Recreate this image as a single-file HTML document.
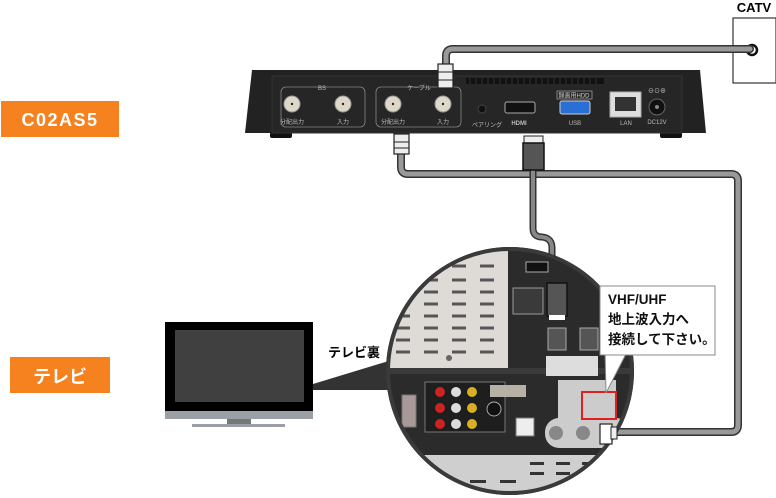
<!DOCTYPE html>
<html><head><meta charset="utf-8"><style>
html,body{margin:0;padding:0;background:#fff;}
svg{display:block;font-family:"Liberation Sans","Noto Sans CJK JP",sans-serif;}
</style></head><body>
<svg width="776" height="498" viewBox="0 0 776 498" xmlns="http://www.w3.org/2000/svg">
<defs><clipPath id="c"><circle cx="510" cy="371" r="121"/></clipPath></defs>
<!-- orange labels -->
<rect x="1" y="101" width="118" height="36" fill="#f5821f"/>
<text x="60" y="126" font-size="18" font-weight="bold" fill="#fff" text-anchor="middle" letter-spacing="1.5">C02AS5</text>
<rect x="10" y="357" width="100" height="36" fill="#f5821f"/>
<text x="60" y="383" font-size="18" font-weight="bold" fill="#fff" text-anchor="middle">テレビ</text>
<!-- CATV -->
<text x="754" y="12" font-size="13" font-weight="bold" text-anchor="middle">CATV</text>
<rect x="733" y="18" width="43" height="65" fill="#fff" stroke="#333" stroke-width="1.2"/>
<circle cx="752" cy="50" r="5" fill="#fff" stroke="#111" stroke-width="2.5"/>
<!-- cables -->
<g fill="none" stroke-linecap="round" stroke-linejoin="round">
<path d="M446 66 V56 Q446 49 453 49 H750" stroke="#333" stroke-width="8"/>
<path d="M446 66 V56 Q446 49 453 49 H750" stroke="#999" stroke-width="5"/>
<path d="M401 150 V167 Q401 174 408 174 H731 Q738 174 738 181 V425 Q738 432 731 432 H615" stroke="#333" stroke-width="8"/>
<path d="M401 150 V167 Q401 174 408 174 H731 Q738 174 738 181 V425 Q738 432 731 432 H615" stroke="#999" stroke-width="5"/>
<path d="M533 168 V228 Q533 237 542 237 Q552 238 552 248 V290" stroke="#333" stroke-width="7"/>
<path d="M533 168 V228 Q533 237 542 237 Q552 238 552 248 V290" stroke="#888" stroke-width="4"/>
</g>
<!-- device -->
<path d="M252 70 H700 L706 133 H245 Z" fill="#222"/>
<rect x="270" y="132" width="22" height="6" rx="2" fill="#111"/>
<rect x="660" y="132" width="22" height="6" rx="2" fill="#111"/>
<rect x="272" y="76" width="410" height="57" fill="#262626" stroke="#333"/>
<g fill="#111"><rect x="466" y="78" width="138" height="6"/></g>
<g stroke="#333" stroke-width="1"><path d="M470 78v6M476 78v6M482 78v6M488 78v6M494 78v6M500 78v6M506 78v6M512 78v6M518 78v6M524 78v6M530 78v6M536 78v6M542 78v6M548 78v6M554 78v6M560 78v6M566 78v6M572 78v6M578 78v6M584 78v6M590 78v6M596 78v6"/></g>
<rect x="281" y="87" width="84" height="40" rx="5" fill="none" stroke="#888" stroke-width="0.8"/>
<rect x="376" y="87" width="85" height="40" rx="5" fill="none" stroke="#888" stroke-width="0.8"/>
<text x="322" y="90" font-size="6" fill="#bbb" text-anchor="middle">BS</text>
<text x="419" y="90" font-size="6" fill="#bbb" text-anchor="middle">ケーブル</text>
<g fill="#ddd8c8" stroke="#999"><circle cx="292" cy="104" r="8"/><circle cx="343" cy="104" r="8"/><circle cx="393" cy="104" r="8"/><circle cx="443" cy="104" r="8"/></g>
<g fill="#222"><circle cx="292" cy="104" r="1.2"/><circle cx="343" cy="104" r="1.2"/><circle cx="393" cy="104" r="1.2"/><circle cx="443" cy="104" r="1.2"/></g>
<g font-size="6" fill="#bbb" text-anchor="middle"><text x="292" y="124">分配出力</text><text x="343" y="124">入力</text><text x="393" y="124">分配出力</text><text x="443" y="124">入力</text><text x="487" y="127">ペアリング</text><text x="519" y="125" font-weight="bold">HDMI</text><text x="575" y="125">USB</text><text x="626" y="125">LAN</text><text x="657" y="124">DC12V</text></g>
<circle cx="482" cy="109" r="4" fill="#111" stroke="#444"/>
<rect x="505" y="102" width="30" height="11" rx="2" fill="#111" stroke="#aaa"/>
<rect x="557" y="91" width="35" height="8" fill="none" stroke="#aaa" stroke-width="0.7"/>
<text x="574" y="97.5" font-size="6" fill="#ccc" text-anchor="middle">録画用HDD</text>
<rect x="560" y="101" width="30" height="13" rx="2" fill="#2a6fd6" stroke="#ccc"/>
<rect x="610" y="92" width="31" height="25" fill="#ddd" stroke="#aaa"/>
<rect x="615" y="97" width="21" height="14" fill="#333"/>
<circle cx="657" cy="107" r="8" fill="#111" stroke="#666"/>
<circle cx="657" cy="107" r="2" fill="#888"/>
<text x="657" y="93" font-size="6" fill="#ccc" text-anchor="middle">⊖⊙⊕</text>
<!-- connectors -->
<rect x="438" y="64" width="15" height="24" fill="#eee" stroke="#222" stroke-width="1.2"/>
<path d="M438 72h15M438 80h15" stroke="#222"/>
<rect x="394" y="134" width="15" height="20" fill="#eee" stroke="#222" stroke-width="1.2"/>
<path d="M394 142h15M394 148h15" stroke="#222"/>
<rect x="524" y="136" width="19" height="8" fill="#eee" stroke="#222"/>
<rect x="523" y="143" width="21" height="27" fill="#555" stroke="#111" stroke-width="1.5"/>
<!-- TV -->
<rect x="165" y="322" width="148" height="90" fill="#000"/>
<rect x="175" y="330" width="129" height="72" fill="#404040"/>
<rect x="165" y="411" width="148" height="8" fill="#9aa0a6"/>
<rect x="227" y="419" width="24" height="5" fill="#777"/>
<rect x="192" y="424" width="93" height="3" fill="#9aa0a6"/>
<polygon points="313,384 392,360 392,390 313,390" fill="#333"/>
<text x="328" y="357" font-size="13" font-weight="bold">テレビ裏</text>
<!-- circle detail -->
<circle cx="510" cy="371" r="124" fill="#2a2a2a"/>
<g clip-path="url(#c)">
<rect x="380" y="240" width="260" height="260" fill="#2b2b2b"/>
<rect x="380" y="240" width="128" height="128" fill="#dedad6"/>
<g stroke="#555" stroke-width="3" stroke-dasharray="14 14">
<path d="M396 266H500M396 280H500M396 292H500M396 304H500M396 316H500M396 328H500M396 340H500M396 352H500"/></g>
<circle cx="449" cy="358" r="3" fill="#666"/>
<rect x="380" y="368" width="260" height="6" fill="#3a3a3a"/>
<rect x="425" y="382" width="80" height="50" fill="#1e1e1e" stroke="#777"/>
<g fill="#c22"><circle cx="440" cy="392" r="5"/><circle cx="440" cy="408" r="5"/><circle cx="440" cy="424" r="5"/></g>
<g fill="#ddd"><circle cx="456" cy="392" r="5"/><circle cx="456" cy="408" r="5"/><circle cx="456" cy="424" r="5"/></g>
<g fill="#d8b020"><circle cx="472" cy="392" r="5"/><circle cx="472" cy="408" r="5"/><circle cx="472" cy="424" r="5"/></g>
<rect x="490" y="385" width="36" height="12" fill="#b7b0a5"/>
<circle cx="494" cy="409" r="7" fill="#111" stroke="#aaa"/>
<rect x="402" y="395" width="14" height="32" fill="#a99" stroke="#777"/>
<rect x="516" y="418" width="18" height="18" fill="#eee" stroke="#777"/>
<rect x="548" y="328" width="18" height="22" fill="#555" stroke="#aaa"/>
<rect x="580" y="328" width="18" height="22" fill="#555" stroke="#aaa"/>
<rect x="546" y="356" width="52" height="20" fill="#ddd"/>
<rect x="526" y="262" width="22" height="10" fill="#111" stroke="#aaa"/>
<rect x="513" y="288" width="30" height="26" fill="#3a3a3a" stroke="#999"/>
<rect x="558" y="380" width="58" height="40" fill="#ccc"/>
<rect x="545" y="418" width="85" height="30" rx="14" fill="#ccc"/>
<circle cx="556" cy="433" r="7" fill="#888"/><circle cx="583" cy="433" r="7" fill="#888"/>
<rect x="380" y="455" width="260" height="45" fill="#cfcfcf"/>
<g fill="#333"><rect x="530" y="462" width="14" height="3"/><rect x="556" y="462" width="14" height="3"/><rect x="582" y="462" width="14" height="3"/><rect x="530" y="472" width="14" height="3"/><rect x="556" y="472" width="14" height="3"/><rect x="582" y="472" width="14" height="3"/><rect x="470" y="480" width="16" height="3"/><rect x="500" y="480" width="16" height="3"/></g>
</g>
<circle cx="510" cy="371" r="122" fill="none" stroke="#3a3a3a" stroke-width="4"/>
<!-- HDMI plug on TV -->
<rect x="547" y="283" width="20" height="33" fill="#555" stroke="#111" stroke-width="1.5"/>
<rect x="549" y="315" width="16" height="5" fill="#fff"/>
<!-- red box -->
<rect x="582" y="392" width="34" height="27" fill="none" stroke="#e02020" stroke-width="2"/>
<!-- TV coax connector -->
<rect x="600" y="424" width="12" height="20" fill="#fff" stroke="#222" stroke-width="1.2"/>
<rect x="611" y="427" width="6" height="12" fill="#eee" stroke="#222"/>
<!-- callout -->
<polygon points="605,350 628,350 606,393" fill="#fff" stroke="#888"/>
<rect x="600" y="286" width="115" height="69" fill="#fff" stroke="#888"/>
<rect x="603" y="345" width="25" height="9" fill="#fff"/>
<g font-size="13.5" font-weight="bold" fill="#111"><text x="608" y="304">VHF/UHF</text><text x="608" y="324">地上波入力へ</text><text x="608" y="344">接続して下さい。</text></g>
</svg>
</body></html>
